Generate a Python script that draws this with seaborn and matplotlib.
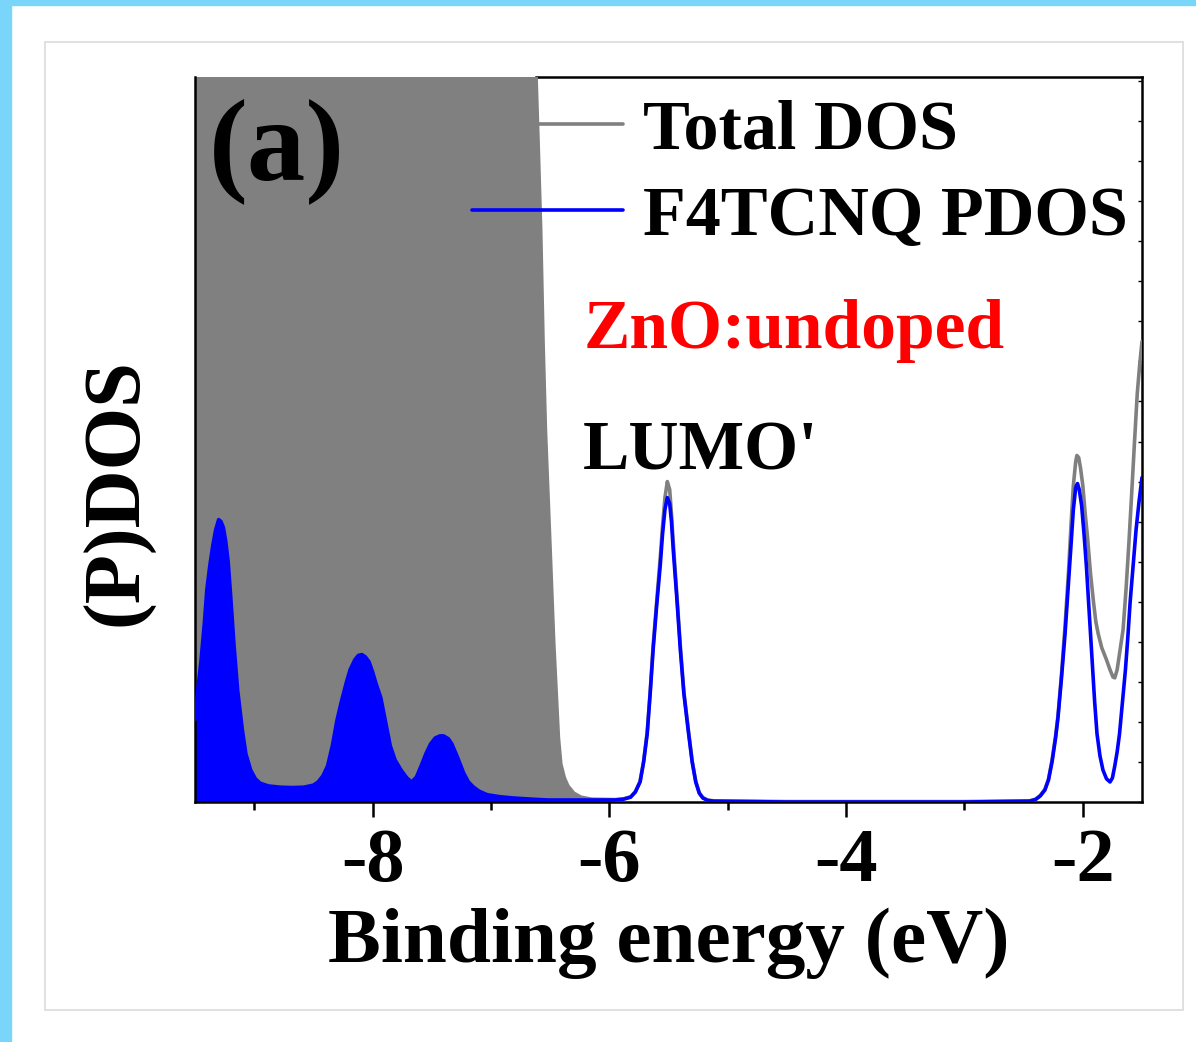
import numpy as np
import pandas as pd
import matplotlib
matplotlib.use("Agg")
import matplotlib.pyplot as plt
from matplotlib.patches import Rectangle
import seaborn as sns

# energia (eV) e valores
energia_pdos = [-9.50, -9.48, -9.45, -9.42, -9.40, -9.375, -9.35, -9.325, -9.30, -9.28,
                -9.26, -9.24, -9.22, -9.20, -9.17, -9.14, -9.10, -9.07, -9.03, -8.99,
                -8.95, -8.88, -8.78, -8.68, -8.58, -8.50, -8.46, -8.42, -8.38, -8.34,
                -8.30, -8.26, -8.22, -8.19, -8.15, -8.12, -8.09, -8.06, -8.03, -8.00,
                -7.97, -7.93, -7.89, -7.85, -7.81, -7.76, -7.71, -7.67, -7.63, -7.59,
                -7.55, -7.51, -7.47, -7.43, -7.40, -7.36, -7.33, -7.28, -7.23, -7.19,
                -7.15, -7.10, -7.03, -6.92, -6.81, -6.65, -6.52, -6.20, -5.95, -5.88,
                -5.82, -5.78, -5.74, -5.71, -5.68, -5.655, -5.63, -5.60, -5.57, -5.55,
                -5.53, -5.51, -5.49, -5.475, -5.46, -5.43, -5.40, -5.37, -5.33, -5.30,
                -5.27, -5.24, -5.21, -5.17, -5.12, -4.50, -3.00, -2.45, -2.40, -2.36,
                -2.32, -2.29, -2.26, -2.23, -2.21, -2.18, -2.15, -2.12, -2.10, -2.08,
                -2.06, -2.045, -2.03, -2.01, -1.99, -1.97, -1.945, -1.92, -1.90, -1.88,
                -1.855, -1.83, -1.80, -1.77, -1.75, -1.73, -1.71, -1.69, -1.665, -1.64,
                -1.62, -1.60, -1.575, -1.55, -1.525, -1.50]
pdos = [2.05, 2.7, 3.5, 4.5, 5.3, 5.9, 6.4, 6.8, 7.05, 7.0,
        6.85, 6.5, 6.0, 5.2, 3.9, 2.8, 1.8, 1.2, 0.8, 0.58,
        0.47, 0.4, 0.37, 0.36, 0.37, 0.42, 0.5, 0.65, 0.9, 1.4,
        2.05, 2.55, 3.0, 3.3, 3.55, 3.66, 3.68, 3.62, 3.5, 3.25,
        2.95, 2.6, 2.0, 1.4, 1.05, 0.8, 0.6, 0.5, 0.62, 0.9,
        1.2, 1.45, 1.6, 1.65, 1.65, 1.58, 1.45, 1.1, 0.72, 0.5,
        0.38, 0.27, 0.18, 0.13, 0.1, 0.07, 0.05, 0.05, 0.05, 0.07,
        0.12, 0.25, 0.5, 1.0, 1.7, 2.7, 3.8, 4.9, 5.9, 6.7,
        7.3, 7.6, 7.45, 7.0, 6.3, 5.1, 3.8, 2.7, 1.7, 1.0,
        0.5, 0.22, 0.1, 0.04, 0.02, 0.0, 0.0, 0.02, 0.06, 0.15,
        0.3, 0.55, 1.0, 1.6, 2.1, 3.1, 4.2, 5.5, 6.4, 7.3,
        7.85, 7.95, 7.8, 7.4, 6.7, 5.9, 4.7, 3.5, 2.5, 1.7,
        1.15, 0.8, 0.58, 0.5, 0.6, 0.9, 1.25, 1.7, 2.5, 3.3,
        4.1, 5.0, 5.9, 6.8, 7.5, 8.1]

energia_total = [-9.50, -6.66, -6.62, -6.60, -6.58, -6.56, -6.54, -6.52, -6.50, -6.47,
                 -6.45, -6.43, -6.41, -6.38, -6.35, -6.30, -6.24, -6.15, -5.95, -5.88,
                 -5.82, -5.78, -5.74, -5.71, -5.68, -5.655, -5.63, -5.60, -5.57, -5.55,
                 -5.53, -5.51, -5.49, -5.475, -5.46, -5.43, -5.40, -5.37, -5.33, -5.30,
                 -5.27, -5.24, -5.21, -5.17, -5.12, -4.50, -3.00, -2.45, -2.40, -2.36,
                 -2.32, -2.29, -2.26, -2.23, -2.21, -2.18, -2.15, -2.12, -2.10, -2.08,
                 -2.06, -2.05, -2.035, -2.02, -2.00, -1.98, -1.96, -1.935, -1.91, -1.89,
                 -1.87, -1.84, -1.80, -1.77, -1.745, -1.73, -1.71, -1.69, -1.66, -1.635,
                 -1.61, -1.59, -1.565, -1.54, -1.52, -1.50]
total_dos = [30.0, 25.0, 18.2, 16.3, 14.3, 11.5, 9.3, 7.8, 6.3, 4.0,
             2.8, 1.6, 0.95, 0.6, 0.4, 0.22, 0.12, 0.07, 0.06, 0.08,
             0.13, 0.26, 0.52, 1.02, 1.75, 2.75, 3.9, 5.0, 6.1, 6.9,
             7.6, 8.0, 7.8, 7.2, 6.5, 5.2, 3.9, 2.75, 1.75, 1.02,
             0.52, 0.23, 0.11, 0.05, 0.03, 0.01, 0.01, 0.03, 0.07, 0.16,
             0.32, 0.57, 1.05, 1.65, 2.15, 3.2, 4.4, 5.8, 6.9, 7.9,
             8.5, 8.65, 8.6, 8.35, 7.9, 7.2, 6.6, 5.7, 5.0, 4.5,
             4.2, 3.85, 3.55, 3.3, 3.12, 3.1, 3.3, 3.7, 4.3, 5.3,
             6.5, 7.55, 8.9, 10.2, 10.9, 11.5]

df_pdos = pd.DataFrame({"energia": energia_pdos, "dos": pdos})
df_total = pd.DataFrame({"energia": energia_total, "dos": total_dos})

sns.set_style("ticks")
plt.rcParams["font.family"] = ["Liberation Serif", "DejaVu Serif"]
plt.rcParams["font.weight"] = "bold"
plt.rcParams["text.color"] = "black"
plt.rcParams["axes.labelcolor"] = "black"
plt.rcParams["axes.edgecolor"] = "black"
plt.rcParams["xtick.color"] = "black"
plt.rcParams["ytick.color"] = "black"

fig = plt.figure(figsize=(11.96, 10.42), dpi=100)
ax = fig.add_axes([195 / 1196, 1 - 802 / 1042, 947 / 1196, 725 / 1042])

# moldura da imagem
fig.patches.append(Rectangle((0, 1 - 5 / 1042), 1, 5 / 1042, transform=fig.transFigure,
                             color="#79d5fa", zorder=0))
fig.patches.append(Rectangle((0, 0), 11 / 1196, 1, transform=fig.transFigure,
                             color="#79d5fa", zorder=0))
fig.patches.append(Rectangle((45 / 1196, 1 - 1010 / 1042), 1138 / 1196, 968 / 1042,
                             transform=fig.transFigure, fill=False,
                             edgecolor="#dadada", lw=1.2, zorder=0))

# preenchimentos
filtro_total = df_total["energia"] <= -6.15
ax.fill_between(df_total.loc[filtro_total, "energia"], df_total.loc[filtro_total, "dos"],
                color="#808080", lw=0, zorder=1)
filtro_pdos = df_pdos["energia"] <= -5.95
ax.fill_between(df_pdos.loc[filtro_pdos, "energia"], df_pdos.loc[filtro_pdos, "dos"],
                color="#0000ff", lw=0, zorder=2)

sns.lineplot(data=df_total, x="energia", y="dos", color="#808080", lw=2.6,
             label="Total DOS", ax=ax, zorder=3)
sns.lineplot(data=df_pdos, x="energia", y="dos", color="#0000ff", lw=2.6,
             label="F4TCNQ PDOS", ax=ax, zorder=4)

ax.set_xlim(-9.5, -1.5)
ax.set_ylim(0, 18.1)
ax.set_xticks([-8, -6, -4, -2])
ax.set_xticks([-9, -7, -5, -3], minor=True)
ax.set_xticklabels(["-8", "-6", "-4", "-2"])
ax.set_yticks(np.arange(0, 19, 1))
ax.set_yticklabels([])
ax.tick_params(axis="x", which="major", direction="out", length=11, width=1.8,
               labelsize=55, pad=8)
ax.tick_params(axis="x", which="minor", direction="out", length=6, width=1.8)
ax.tick_params(axis="y", which="major", direction="in", length=3, width=1,
               left=True, right=True)
for s in ax.spines.values():
    s.set_linewidth(1.8)
    s.set_visible(True)
ax.spines["top"].set_bounds(-6.62, -1.5)

ax.set_xlabel("Binding energy (eV)", fontsize=57, fontweight="bold")
ax.set_ylabel("(P)DOS", fontsize=58, fontweight="bold")
ax.xaxis.set_label_coords(0.5, -0.145)
ax.yaxis.set_label_coords(-0.043, 0.428)

ax.text(0.015, 0.971, "(a)", transform=ax.transAxes, fontsize=84, fontweight="bold",
        ha="left", va="top", zorder=5)
ax.text(0.41, 0.626, "ZnO:undoped", transform=ax.transAxes, fontsize=50,
        fontweight="bold", color="#ff0000", ha="left", va="baseline", zorder=5)
ax.text(0.41, 0.458, "LUMO'", transform=ax.transAxes, fontsize=50,
        fontweight="bold", color="black", ha="left", va="baseline", zorder=5)

leg = ax.legend(loc="upper right", bbox_to_anchor=(0.992, 0.979), frameon=False,
                fontsize=50.5, handlelength=2.15, handletextpad=0.28,
                labelspacing=0.32, borderpad=0.1, borderaxespad=0.0)
for t in leg.get_texts():
    t.set_fontweight("bold")
leg.set_zorder(6)

fig.savefig("out.png", dpi=100)
